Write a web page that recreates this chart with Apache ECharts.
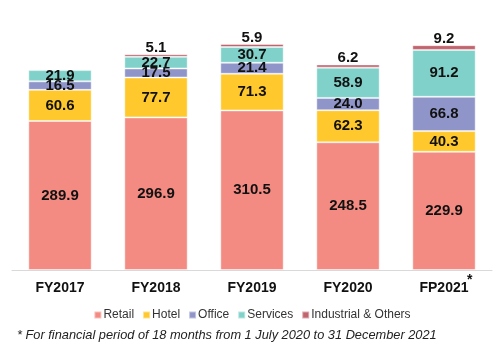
<!DOCTYPE html>
<html>
<head>
<meta charset="utf-8">
<script src="https://cdn.jsdelivr.net/npm/echarts@6/dist/echarts.min.js"></script>
<style>
  html, body { margin: 0; padding: 0; background: #fff; }
  #chart { width: 504px; height: 351px; }
</style>
</head>
<body>
<div id="chart"></div>
<script>
// categories and values
var years = ['FY2017', 'FY2018', 'FY2019', 'FY2020', 'FP2021']
var retail = [289.9, 296.9, 310.5, 248.5, 229.9]
var hotel = [60.6, 77.7, 71.3, 62.3, 40.3]
var office = [16.5, 17.5, 21.4, 24.0, 66.8]
var services = [21.9, 22.7, 30.7, 58.9, 91.2]
var industrial = [null, 5.1, 5.9, 6.2, 9.2]
var footnote = '* For financial period of 18 months from 1 July 2020 to 31 December 2021'

var font = 'Liberation Sans, Arial, sans-serif'

function seg (name, data, color, pos) {
  return {
    name: name,
    type: 'bar',
    stack: 'total',
    barWidth: '66%',
    data: data,
    itemStyle: {
      color: color,
      borderColor: 'rgba(255,255,255,0.45)',
      borderWidth: 1
    },
    label: {
      show: true,
      position: pos || 'inside',
      distance: -1,
      color: '#111',
      fontFamily: font,
      fontWeight: 'bold',
      fontSize: 15,
      formatter: function (p) { return p.value == null ? '' : p.value.toFixed(1) }
    }
  }
}

var chart = echarts.init(document.getElementById('chart'))
chart.setOption({
  animation: false,
  grid: { left: 12, right: 12, top: 13, bottom: 81 },
  legend: {
    top: 304,
    left: 'center',
    icon: 'rect',
    itemWidth: 7,
    itemHeight: 7,
    itemGap: 8,
    textStyle: { fontFamily: font, fontSize: 12, color: '#333', padding: [0, 0, 0, -3] },
    data: ['Retail', 'Hotel', 'Office', 'Services', 'Industrial & Others']
  },
  xAxis: {
    type: 'category',
    data: years,
    axisTick: { show: false },
    axisLine: { lineStyle: { color: '#d9d9d9', width: 1 } },
    axisLabel: {
      interval: 0,
      margin: 11,
      fontFamily: font,
      fontSize: 14,
      fontWeight: 'bold',
      color: '#111'
    }
  },
  yAxis: {
    type: 'value',
    min: 0,
    max: 500,
    show: false,
    splitLine: { show: false }
  },
  graphic: [{
    type: 'text',
    left: 17,
    top: 329,
    style: {
      text: footnote,
      fontStyle: 'italic',
      fontSize: 12.8,
      fontFamily: font,
      fill: '#222'
    }
  }],
  series: [
    seg('Retail', retail, '#F38B82'),
    seg('Hotel', hotel, '#FFC82C'),
    seg('Office', office, '#8F95C9'),
    seg('Services', services, '#80D1C9'),
    seg('Industrial & Others', industrial, '#C0646E', 'top')
  ]
})

// superscript asterisk after the last category label
var pt = chart.convertToPixel({ xAxisIndex: 0 }, 'FP2021')
chart.setOption({
  graphic: [{}, {
    type: 'text',
    x: pt + 23,
    y: 273,
    style: {
      text: '*',
      fontWeight: 'bold',
      fontSize: 14,
      fontFamily: font,
      fill: '#111'
    }
  }]
})
</script>
</body>
</html>
